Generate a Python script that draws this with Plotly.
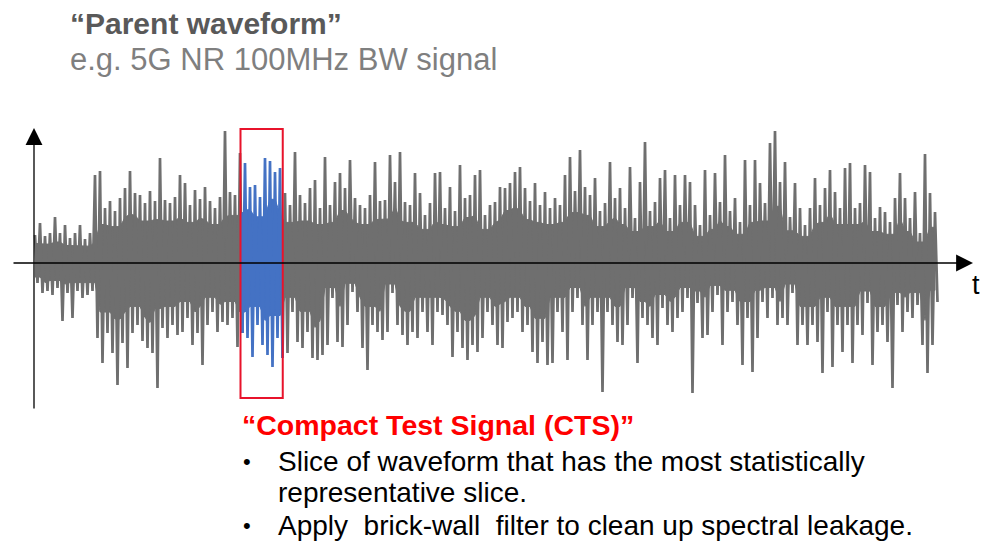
import plotly.graph_objects as go

# Upper / lower envelope amplitudes of the parent waveform (one sample per time step)
upper_env = [
    28, 40, 27, 30, 46, 30, 38, 25, 30, 38,
    24, 30, 88, 92, 55, 62, 52, 65, 75, 92,
    70, 68, 60, 72, 62, 105, 63, 60, 66, 88,
    80, 58, 73, 64, 76, 62, 55, 66, 132, 71,
    68, 110, 100, 76, 78, 66, 105, 102, 91, 95,
    70, 58, 111, 68, 60, 75, 83, 55, 106, 58,
    81, 90, 75, 103, 65, 58, 55, 68, 101, 62,
    63, 108, 81, 111, 61, 58, 90, 70, 48, 60,
    90, 91, 55, 76, 52, 98, 65, 68, 88, 93,
    48, 58, 61, 76, 75, 80, 91, 96, 75, 62,
    80, 58, 71, 55, 65, 58, 88, 106, 72, 113,
    76, 68, 85, 52, 60, 101, 65, 75, 55, 96,
    45, 81, 121, 52, 61, 85, 93, 45, 88, 58,
    88, 81, 58, 38, 93, 48, 90, 61, 108, 52,
    65, 41, 103, 58, 103, 80, 60, 120, 132, 81,
    101, 46, 80, 55, 38, 55, 85, 58, 75, 93,
    71, 55, 95, 100, 55, 60, 98, 91, 45, 56,
    51, 41, 65, 90, 65, 45, 71, 30, 109, 70,
    51,
]
lower_env = [
    20, 30, 28, 32, 25, 58, 30, 55, 28, 35,
    32, 28, 75, 100, 70, 90, 122, 80, 105, 70,
    62, 78, 85, 90, 125, 65, 75, 62, 72, 69,
    55, 82, 70, 102, 62, 49, 69, 59, 62, 55,
    84, 70, 75, 94, 62, 82, 92, 104, 75, 95,
    90, 49, 79, 85, 69, 95, 97, 92, 82, 35,
    79, 84, 62, 29, 49, 85, 107, 62, 69, 77,
    69, 30, 62, 72, 82, 69, 75, 49, 69, 82,
    49, 52, 62, 94, 69, 85, 97, 82, 89, 75,
    49, 62, 82, 85, 59, 55, 49, 69, 62, 89,
    100, 79, 102, 100, 49, 69, 97, 49, 35, 62,
    97, 62, 49, 129, 49, 62, 79, 82, 62, 35,
    100, 55, 62, 75, 82, 45, 62, 69, 55, 49,
    35, 130, 40, 75, 72, 49, 32, 82, 49, 39,
    62, 102, 55, 109, 75, 39, 55, 35, 62, 55,
    62, 30, 82, 62, 82, 62, 79, 110, 49, 104,
    62, 89, 62, 100, 62, 72, 40, 102, 69, 62,
    79, 125, 42, 69, 49, 55, 42, 82, 110, 82,
    39,
]
cts_start = 42   # first sample of the Compact Test Signal slice
cts_end = 49     # last sample of the slice

title_text = "“Parent waveform”"
subtitle_text = "e.g. 5G NR 100MHz BW signal"
cts_title = "“Compact Test Signal (CTS)”"
bullet_lines = [
    "Slice of waveform that has the most statistically",
    "representative slice.",
    "Apply  brick-wall  filter to clean up spectral leakage.",
]

GRAY = "#6f6f6f"
BLUE = "#4472c4"
RED = "#e8132b"
n = len(upper_env)


def core(env, i):
    # solid body of the trace: a share of the lowest neighbouring peak
    lo, hi = max(0, i - 1), min(n - 1, i + 1)
    return 0.7 * min(env[lo:hi + 1])


def zigzag(i0, i1, lead_in=False):
    xs, ys = [], []
    if lead_in and i0 > 0:
        xs.append(i0 - 0.5)
        ys.append(-lower_env[i0 - 1])
    for i in range(i0, i1 + 1):
        xs += [i, i + 0.5]
        ys += [upper_env[i], -lower_env[i]]
    return xs, ys


def body(i0, i1):
    xs = [i for i in range(i0, i1 + 1)]
    top = [core(upper_env, i) for i in xs]
    bot = [-core(lower_env, i) for i in xs]
    return xs + xs[::-1], top + bot[::-1]


fig = go.Figure()
segments = [(0, cts_start - 1, GRAY, False),
            (cts_end + 1, n - 1, GRAY, True),
            (cts_start, cts_end, BLUE, True)]
for a, b, col, lead in segments:
    bx, by = body(max(0, a - (1 if lead else 0)), b)
    fig.add_trace(go.Scatter(x=bx, y=by, mode="lines", fill="toself",
                             fillcolor=col, line=dict(color=col, width=1),
                             hoverinfo="skip", showlegend=False))
    xs, ys = zigzag(a, b, lead)
    fig.add_trace(go.Scatter(x=xs, y=ys, mode="lines",
                             line=dict(color=col, width=2.7),
                             hoverinfo="skip", showlegend=False))

box_h = max(upper_env) + 2
fig.add_shape(type="rect", xref="x", yref="y",
              x0=cts_start - 0.9, x1=cts_end + 0.55, y0=-box_h - 1, y1=box_h,
              line=dict(color=RED, width=2), fillcolor="rgba(0,0,0,0)")

# axes with arrows
fig.add_annotation(x=-0.2, y=135, ax=-0.2, ay=-147, xref="x", yref="y",
                   axref="x", ayref="y", text="", showarrow=True,
                   arrowhead=2, arrowsize=2.6, arrowwidth=1.3, arrowcolor="black")
fig.add_annotation(x=187.6, y=0, ax=-4.6, ay=0, xref="x", yref="y",
                   axref="x", ayref="y", text="", showarrow=True,
                   arrowhead=2, arrowsize=2.6, arrowwidth=1.3, arrowcolor="black")


def px(xp, yp):
    return xp / 984, 1 - yp / 543


def txt(s, xp, yp, size, color, bold=False, anchor="left"):
    x, y = px(xp, yp)
    fig.add_annotation(x=x, y=y, xref="paper", yref="paper", text=s,
                       showarrow=False, xanchor=anchor, yanchor="middle",
                       align="left",
                       font=dict(family="Liberation Sans, Arial, sans-serif",
                                 size=size, color=color, weight="bold" if bold else "normal"))


txt(title_text, 68, 23, 30, "#595959", bold=True)
txt(subtitle_text, 68, 60, 31, "#7f7f7f")
txt("t", 970, 285, 27, "black")
txt(cts_title, 240, 425, 28.5, "#ff0000", bold=True)
txt("•", 241, 461, 22, "black")
txt(bullet_lines[0], 276, 461, 28, "black")
txt(bullet_lines[1], 276, 492, 28, "black")
txt("•", 241, 525, 22, "black")
txt(bullet_lines[2], 276, 525, 28, "black")

fig.update_xaxes(visible=False, range=[-7, 189.8])
fig.update_yaxes(visible=False, range=[-280, 263])
fig.update_layout(width=984, height=543, margin=dict(l=0, r=0, t=0, b=0),
                  plot_bgcolor="white", paper_bgcolor="white", showlegend=False)

fig.write_html("out.html", config={"displayModeBar": False},
               post_script="document.body.style.margin='0';document.body.style.padding='0';document.body.style.overflow='hidden';")
